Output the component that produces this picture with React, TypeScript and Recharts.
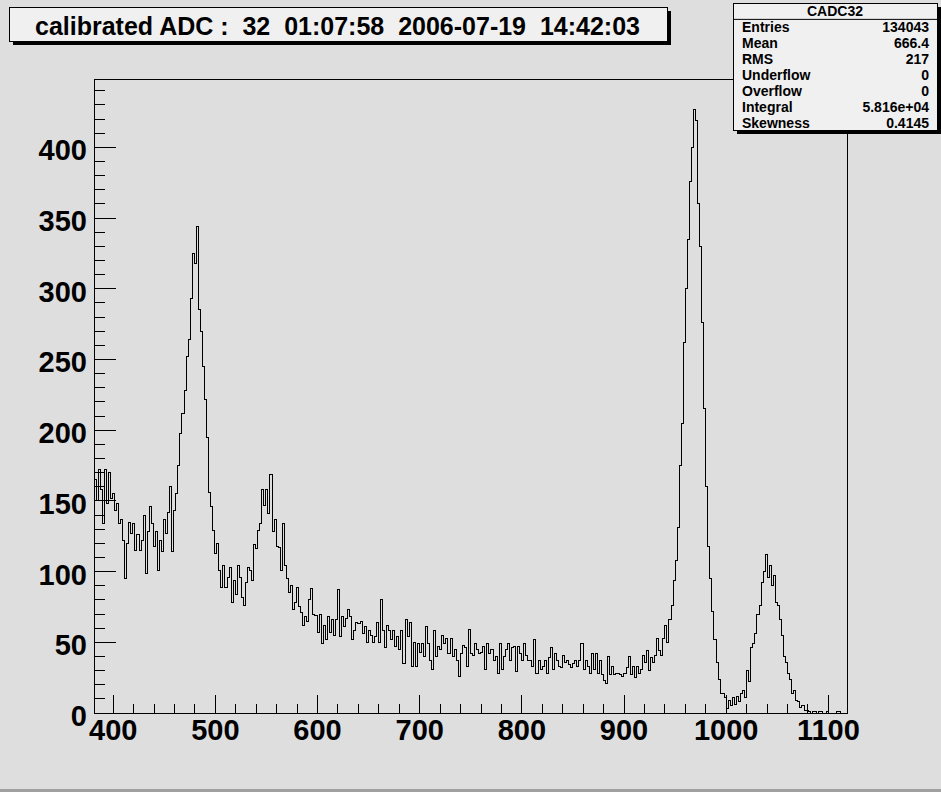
import React from 'react'
import { ComposedChart, Line, XAxis, YAxis, ReferenceArea } from 'recharts'

// histogram range as drawn by the frame
const X_MIN = 381.2
const X_MAX = 1118.2
const Y_MAX = 448.35

// counts per bin (2 ADC units wide), left to right
const counts = [
  165, 150, 172, 158, 134, 172, 148, 170, 152, 155, // 382-400
  143, 148, 134, 137, 122, 95, 120, 135, 127, 134,
  115, 126, 115, 122, 140, 99, 128, 146, 134, 118,
  128, 101, 122, 114, 137, 127, 142, 160, 114, 143,
  155, 175, 198, 212, 228, 252, 264, 293, 325, 318,
  344, 285, 270, 245, 222, 195, 156, 146, 129, 113, // 482-500
  120, 101, 89, 104, 89, 96, 103, 78, 94, 84,
  104, 96, 82, 76, 92, 103, 101, 94, 119, 116,
  129, 134, 158, 147, 158, 141, 169, 128, 137, 118,
  117, 101, 134, 104, 95, 85, 90, 73, 78, 89,
  75, 71, 62, 68, 65, 80, 88, 70, 69, 57, // 582-600
  70, 49, 62, 52, 68, 57, 66, 55, 66, 87,
  54, 68, 61, 67, 73, 68, 52, 58, 64, 63,
  65, 56, 61, 50, 58, 55, 50, 54, 64, 50,
  80, 58, 46, 62, 58, 52, 58, 47, 54, 45,
  58, 35, 66, 54, 64, 33, 50, 33, 49, 43, // 682-700
  49, 40, 61, 49, 37, 31, 58, 40, 47, 45,
  55, 49, 53, 42, 53, 40, 45, 37, 26, 42,
  48, 46, 33, 59, 42, 41, 49, 45, 42, 43,
  47, 31, 49, 42, 45, 37, 40, 28, 49, 31,
  40, 45, 49, 37, 46, 47, 29, 47, 42, 37, // 782-800
  49, 41, 37, 37, 33, 52, 28, 37, 31, 33,
  37, 28, 39, 46, 31, 42, 37, 33, 32, 41,
  36, 37, 34, 32, 35, 37, 33, 37, 49, 31,
  37, 33, 28, 42, 31, 42, 28, 37, 27, 23,
  21, 40, 27, 33, 27, 28, 28, 27, 26, 28, // 882-900
  32, 40, 27, 33, 25, 33, 28, 31, 41, 36,
  44, 30, 39, 36, 41, 53, 44, 41, 53, 62,
  50, 66, 76, 94, 108, 131, 175, 205, 262, 300,
  335, 376, 400, 427, 419, 360, 330, 276, 215, 160,
  118, 95, 72, 52, 36, 24, 14, 14, 11, 3, // 982-1000
  9, 5, 11, 6, 12, 8, 14, 16, 11, 30,
  22, 46, 49, 56, 70, 76, 92, 100, 112, 96,
  104, 90, 97, 78, 76, 66, 55, 40, 36, 28,
  24, 14, 16, 9, 8, 4, 5, 2, 2, 1,
  0, 1, 1, 0, 1, 1, 0, 0, 1, 0, // 1082-1100
  0, 0, 0, 1, 1, 0, 0, 0,
]

const xTicks = [
  400, 420, 440, 460, 480, 500, 520, 540, 560, 580, 600, 620, 640, 660, 680,
  700, 720, 740, 760, 780, 800, 820, 840, 860, 880, 900, 920, 940, 960, 980,
  1000, 1020, 1040, 1060, 1080, 1100,
]
const xLabels = [400, 500, 600, 700, 800, 900, 1000, 1100]
const yTicks = [
  0, 10, 20, 30, 40, 50, 60, 70, 80, 90, 100, 110, 120, 130, 140, 150, 160,
  170, 180, 190, 200, 210, 220, 230, 240, 250, 260, 270, 280, 290, 300, 310,
  320, 330, 340, 350, 360, 370, 380, 390, 400, 410, 420, 430, 440,
]
const yLabels = [0, 50, 100, 150, 200, 250, 300, 350, 400]

const title = 'calibrated ADC :  32  01:07:58  2006-07-19  14:42:03'
const histName = 'CADC32'
const statNames = ['Entries', 'Mean', 'RMS', 'Underflow', 'Overflow', 'Integral', 'Skewness']
const statValues = ['134043', '666.4', '217', '0', '0', '5.816e+04', '0.4145']

const FONT = 'Liberation Sans, Arial, Helvetica, sans-serif'
const NARROW = 'Liberation Sans Narrow, Arial Narrow, Liberation Sans, sans-serif'
const BG = '#dedede'
const BOX = '#f0f0f0'

const binWidth = (X_MAX - X_MIN) / counts.length
const data = counts.map((c, i) => ({ edge: X_MIN + i * binWidth, count: c }))
// close the last bin
data.push({ edge: X_MAX, count: counts[counts.length - 1] })

function XTick(props: any) {
  const { x, y, payload } = props
  const major = xLabels.includes(payload.value)
  return (
    <g>
      <line x1={x} y1={y} x2={x} y2={y - (major ? 18 : 9)} stroke="#000" shapeRendering="crispEdges" />
      {major && (
        <text x={x} y={y + 27} textAnchor="middle" fontFamily={FONT} fontWeight="bold" fontSize={29} fill="#000">
          {payload.value}
        </text>
      )}
    </g>
  )
}

function YTick(props: any) {
  const { x, y, payload } = props
  const major = yLabels.includes(payload.value)
  return (
    <g>
      <line x1={x} y1={y} x2={x + (major ? 22 : 11)} y2={y} stroke="#000" shapeRendering="crispEdges" />
      {major && (
        <text x={x - 7} y={y + 13} textAnchor="end" fontFamily={FONT} fontWeight="bold" fontSize={29} fill="#000">
          {payload.value}
        </text>
      )}
    </g>
  )
}

export default function App() {
  const boxTop = 3.5
  const rowH = 127 / 8
  return (
    <div style={{ position: 'absolute', left: 0, top: 0, width: 941, height: 792, background: BG }}>
      <ComposedChart
        width={941}
        height={792}
        data={data}
        margin={{ top: 79, right: 94, bottom: 0, left: 0 }}
      >
        <XAxis
          dataKey="edge"
          type="number"
          domain={[X_MIN, X_MAX]}
          allowDataOverflow
          ticks={xTicks}
          interval={0}
          height={79}
          tickSize={0}
          tickMargin={0}
          tickLine={false}
          axisLine={false}
          tick={<XTick />}
        />
        <YAxis
          type="number"
          domain={[0, Y_MAX]}
          allowDataOverflow
          ticks={yTicks}
          interval={0}
          width={94}
          tickSize={0}
          tickMargin={0}
          tickLine={false}
          axisLine={false}
          tick={<YTick />}
        />
        <ReferenceArea
          x1={X_MIN}
          x2={X_MAX}
          y1={0}
          y2={Y_MAX}
          fill="none"
          stroke="#000"
          strokeWidth={1}
          shapeRendering="crispEdges"
          ifOverflow="visible"
        />
        <Line
          type="stepAfter"
          dataKey="count"
          stroke="#000"
          strokeWidth={1}
          shapeRendering="crispEdges"
          dot={false}
          activeDot={false}
          isAnimationActive={false}
        />
      </ComposedChart>

      <svg
        width={941}
        height={792}
        style={{ position: 'absolute', left: 0, top: 0, pointerEvents: 'none' }}
      >
        {/* canvas bevel */}
        <rect x={0} y={789} width={941} height={3} fill="#a0a0a0" />

        {/* title box */}
        <rect x={13} y={11} width={658} height={34} fill="#000" />
        <rect x={9.5} y={7.5} width={658} height={34} fill={BOX} stroke="#000" />
        <text
          x={35}
          y={35}
          textLength={605}
          lengthAdjust="spacingAndGlyphs"
          fontFamily={NARROW}
          fontWeight="bold"
          fontSize={25}
          fill="#000"
          style={{ whiteSpace: 'pre' }}
        >
          {title}
        </text>

        {/* stats box */}
        <rect x={737} y={7} width={204} height={127} fill="#000" />
        <rect x={733.5} y={boxTop} width={204} height={127} fill={BOX} stroke="#000" />
        <line x1={733.5} y1={boxTop + rowH} x2={937.5} y2={boxTop + rowH} stroke="#000" />
        <text x={835} y={boxTop + rowH / 2 + 5} textAnchor="middle" fontFamily={FONT} fontWeight="bold" fontSize={14} fill="#000">
          {histName}
        </text>
        {statNames.map((name, i) => (
          <g key={name}>
            <text x={742} y={boxTop + rowH * (i + 1.5) + 5} fontFamily={FONT} fontWeight="bold" fontSize={14} fill="#000">
              {name}
            </text>
            <text x={929} y={boxTop + rowH * (i + 1.5) + 5} textAnchor="end" fontFamily={FONT} fontWeight="bold" fontSize={14} fill="#000">
              {statValues[i]}
            </text>
          </g>
        ))}
      </svg>
    </div>
  )
}
